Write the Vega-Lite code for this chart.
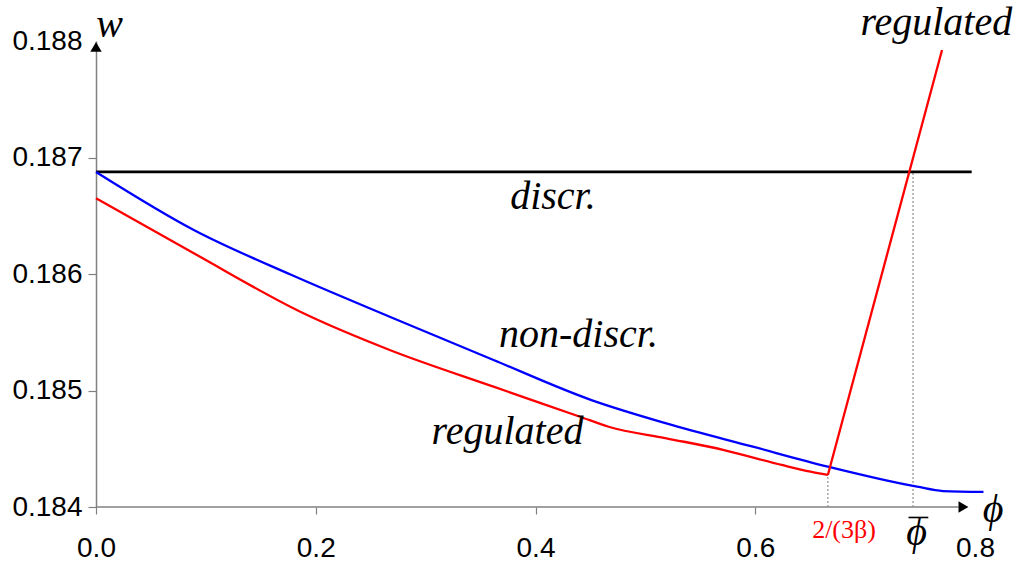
{
  "$schema": "https://vega.github.io/schema/vega-lite/v6.json",
  "width": 879,
  "height": 466,
  "autosize": {"type": "none"},
  "padding": {"left": 96, "top": 41, "right": 41, "bottom": 61},
  "background": "white",
  "config": {"view": {"stroke": null}},
  "datasets": {
    "discr": [
      {"x": 0, "y": 0.186876},
      {"x": 0.797, "y": 0.186876}
    ],
    "nondiscr": [
      {"x": 0, "y": 0.186876},
      {"x": 0.089, "y": 0.186378},
      {"x": 0.1781, "y": 0.185991},
      {"x": 0.2673, "y": 0.185633},
      {"x": 0.3618, "y": 0.185262},
      {"x": 0.4509, "y": 0.184918},
      {"x": 0.5191, "y": 0.184718},
      {"x": 0.5978, "y": 0.184518},
      {"x": 0.6661, "y": 0.184346},
      {"x": 0.7473, "y": 0.184174},
      {"x": 0.7709, "y": 0.184137},
      {"x": 0.8077, "y": 0.184129}
    ],
    "regulated": [
      {"x": 0, "y": 0.18665},
      {"x": 0.089, "y": 0.186178},
      {"x": 0.1888, "y": 0.185663},
      {"x": 0.2673, "y": 0.185348},
      {"x": 0.3618, "y": 0.185033},
      {"x": 0.4405, "y": 0.184775},
      {"x": 0.4666, "y": 0.184689},
      {"x": 0.5191, "y": 0.18459},
      {"x": 0.5716, "y": 0.184489},
      {"x": 0.624, "y": 0.184361},
      {"x": 0.6503, "y": 0.184303},
      {"x": 0.6661, "y": 0.184275}
    ],
    "regjump": [
      {"x": 0.6661, "y": 0.184275},
      {"x": 0.77, "y": 0.187923}
    ],
    "dotted": [
      {"x": 0.6661, "y": 0.184, "y2": 0.184275},
      {"x": 0.7436, "y": 0.184, "y2": 0.186876}
    ],
    "xaxisline": [
      {"x": 0, "x2": 0.785, "y": 0.184}
    ],
    "overbar": [
      {"x": 0.7395, "x2": 0.7575, "y": 0.18391}
    ],
    "uparrow": [{"x": 0, "y": 0.18795}],
    "rightarrow": [{"x": 0.7895, "y": 0.184}],
    "labels": [
      {"x": 0.4159, "y": 0.186661, "label": "discr."},
      {"x": 0.4391, "y": 0.185476, "label": "non-discr."},
      {"x": 0.3745, "y": 0.184644, "label": "regulated"},
      {"x": 0.7648, "y": 0.188152, "label": "regulated"},
      {"x": 0.01245, "y": 0.18814, "label": "w"},
      {"x": 0.8164, "y": 0.183974, "label": "ϕ"},
      {"x": 0.7469, "y": 0.183777, "label": "ϕ"}
    ],
    "redlabels": [
      {"x": 0.6808, "y": 0.183804, "label": "2/(3β)"}
    ]
  },
  "encoding": {
    "x": {
      "field": "x",
      "type": "quantitative",
      "scale": {"domain": [0, 0.8], "nice": false, "zero": false},
      "axis": {
        "title": null,
        "values": [0, 0.2, 0.4, 0.6, 0.8],
        "format": ".1f",
        "domain": false,
        "grid": false,
        "tickColor": "#808080",
        "tickWidth": 1.2,
        "tickSize": 7,
        "tickOpacity": {"condition": {"test": "datum.value > 0.79", "value": 0}, "value": 1},
        "labelFont": "Liberation Sans",
        "labelFontSize": 28,
        "labelColor": "#000000",
        "labelPadding": 20,
        "labelFlush": false
      }
    },
    "y": {
      "field": "y",
      "type": "quantitative",
      "scale": {"domain": [0.184, 0.188], "nice": false, "zero": false},
      "axis": {
        "title": null,
        "values": [0.184, 0.185, 0.186, 0.187, 0.188],
        "format": ".3f",
        "domain": true,
        "domainColor": "#808080",
        "domainWidth": 1.5,
        "grid": false,
        "tickColor": "#808080",
        "tickWidth": 1.2,
        "tickSize": 8,
        "tickOpacity": {"condition": {"test": "datum.value > 0.1875", "value": 0}, "value": 1},
        "labelFont": "Liberation Sans",
        "labelFontSize": 28,
        "labelColor": "#000000",
        "labelPadding": 6,
        "labelFlush": false
      }
    }
  },
  "layer": [
    {
      "data": {"name": "xaxisline"},
      "mark": {"type": "rule", "color": "#808080", "strokeWidth": 1.5},
      "encoding": {"x2": {"field": "x2"}}
    },
    {
      "data": {"name": "dotted"},
      "mark": {"type": "rule", "color": "#909090", "strokeWidth": 1.2, "strokeDash": [2, 2]},
      "encoding": {"y2": {"field": "y2"}}
    },
    {
      "data": {"name": "discr"},
      "mark": {"type": "line", "color": "#000000", "strokeWidth": 2.8},
      "encoding": {}
    },
    {
      "data": {"name": "nondiscr"},
      "mark": {"type": "line", "color": "#0000ff", "strokeWidth": 2.3, "interpolate": "monotone"},
      "encoding": {}
    },
    {
      "data": {"name": "regulated"},
      "mark": {"type": "line", "color": "#ff0000", "strokeWidth": 2.3, "interpolate": "monotone"},
      "encoding": {}
    },
    {
      "data": {"name": "regjump"},
      "mark": {"type": "line", "color": "#ff0000", "strokeWidth": 2.3},
      "encoding": {}
    },
    {
      "data": {"name": "overbar"},
      "mark": {"type": "rule", "color": "#000000", "strokeWidth": 1.6},
      "encoding": {"x2": {"field": "x2"}}
    },
    {
      "data": {"name": "uparrow"},
      "mark": {"type": "point", "shape": "triangle-up", "filled": true, "color": "#000000", "size": 130, "opacity": 1}
    },
    {
      "data": {"name": "rightarrow"},
      "mark": {"type": "point", "shape": "triangle-right", "filled": true, "color": "#000000", "size": 130, "opacity": 1}
    },
    {
      "data": {"name": "labels"},
      "mark": {"type": "text", "font": "'Liberation Serif', 'Times New Roman', serif", "fontStyle": "italic", "fontSize": 40, "color": "#000000", "align": "center", "baseline": "middle"},
      "encoding": {"text": {"field": "label"}}
    },
    {
      "data": {"name": "redlabels"},
      "mark": {"type": "text", "font": "'Liberation Serif', 'Times New Roman', serif", "fontSize": 26, "color": "#ff0000", "align": "center", "baseline": "middle"},
      "encoding": {"text": {"field": "label"}}
    }
  ]
}
